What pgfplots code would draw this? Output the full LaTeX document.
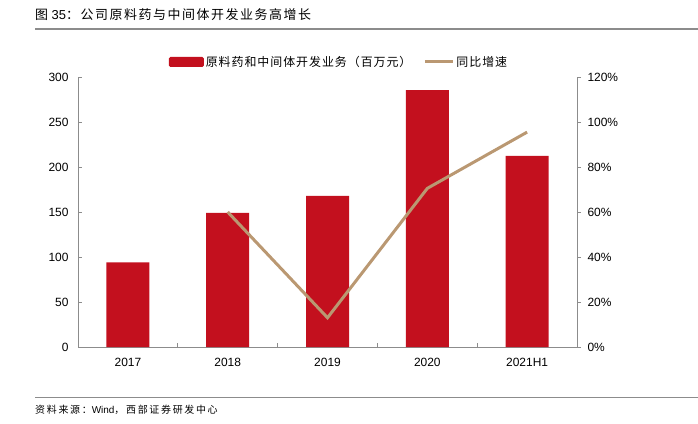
\documentclass[border=0pt]{standalone}
\usepackage{pgfplots}
\pgfplotsset{compat=1.18}
\usepackage{fontspec}
\setmainfont{Liberation Sans}
\newfontfamily\cjk{Noto Sans CJK SC}
\newfontfamily\cjkT[LetterSpace=12]{Noto Sans CJK SC}
\newfontfamily\cjkL[LetterSpace=8]{Noto Sans CJK SC}
\newfontfamily\cjkS[LetterSpace=17]{Noto Sans CJK SC}
\definecolor{barred}{RGB}{195,16,30}
\definecolor{linetan}{RGB}{186,152,114}
\definecolor{axgray}{RGB}{140,140,140}
\begin{document}
\begin{tikzpicture}[x=1bp,y=1bp]
\useasboundingbox (0,0) rectangle (698,423);
\node[anchor=west, inner sep=0pt] at (35,408) {\fontsize{13}{15}\selectfont{\cjkT 图} 35{\cjkT ：公司原料药与中间体开发业务高增长}};
\draw[axgray, line width=1.5bp] (35,394) -- (698,394);
\draw[axgray, line width=1.5bp] (35,25.5) -- (698,25.5);
\node[anchor=west, inner sep=0pt] at (35,13) {\fontsize{10}{12}\selectfont{\cjkS 资料来源：}Wind{\cjkS ，西部证券研发中心}};
\begin{axis}[
  at={(78bp,76bp)}, anchor=south west, scale only axis,
  width=499bp, height=270bp,
  xmin=-0.5, xmax=4.5, ymin=0, ymax=300,
  ytick={0,50,...,300},
  xtick={0,...,4},
  xticklabels={2017,2018,2019,2020,2021H1},
  minor xtick={0.5,1.5,2.5,3.5},
  major x tick style={draw=none},
  axis y line*=left, axis x line*=bottom,
  axis line style={axgray, line width=0.8bp},
  tick style={axgray, line width=0.8bp},
  tick align=inside,
  major tick length=4bp, minor tick length=4bp,
  /pgf/number format/assume math mode=true,
  ticklabel style={font=\fontsize{12}{14}\selectfont, text=black},
  yticklabel style={xshift=-6bp},
  xticklabel style={yshift=-8bp},
  legend style={at={(0.523,1.0556)}, anchor=center, draw=none, fill=none,
    legend columns=2, font=\fontsize{12}{14}\selectfont,
    /tikz/every even column/.append style={column sep=10bp}},
  legend cell align=left,
]
\addplot[ybar, bar width=43bp, fill=barred, draw=none,
  legend image code/.code={\fill[barred, rounded corners=1.5bp] (0bp,-5bp) rectangle (35bp,5bp);}]
  coordinates {(0,94) (1,149) (2,168) (3,285.5) (4,212.5)};
\addlegendentry{\cjkL 原料药和中间体开发业务（百万元）}
\addlegendimage{linetan, line width=3bp, legend image code/.code={\draw[linetan, line width=3bp] (0bp,0bp) -- (28bp,0bp);}}
\addlegendentry{\cjkL 同比增速}
\end{axis}
\begin{axis}[
  at={(78bp,76bp)}, anchor=south west, scale only axis,
  width=499bp, height=270bp,
  xmin=-0.5, xmax=4.5, ymin=0, ymax=120,
  ytick={0,20,...,120},
  axis y line*=right, axis x line=none,
  axis line style={axgray, line width=0.8bp},
  tick style={axgray, line width=0.8bp},
  tick align=outside, major tick length=4bp,
  /pgf/number format/assume math mode=true,
  yticklabel={\pgfmathprintnumber{\tick}\%},
  ticklabel style={font=\fontsize{12}{14}\selectfont, text=black},
  yticklabel style={xshift=3bp},
]
\addplot[linetan, line width=3bp, no marks] coordinates {(1,60) (2,13) (3,70.5) (4,95.5)};
\end{axis}
\end{tikzpicture}
\end{document}
